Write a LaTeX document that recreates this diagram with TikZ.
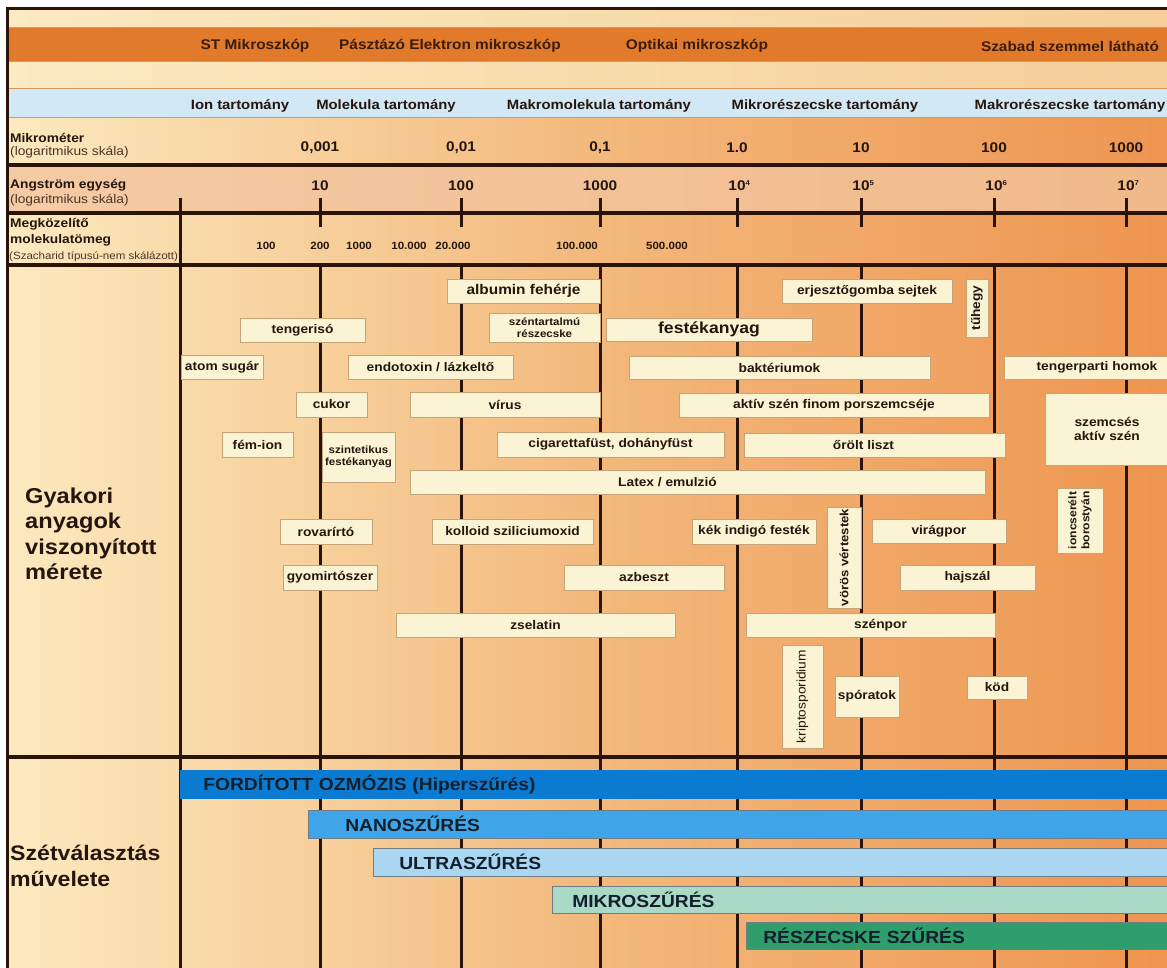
\documentclass[tikz,border=0pt]{standalone}
\usepackage{fontspec}
\setmainfont{Liberation Sans}[FakeStretch=1.1]
\definecolor{ink}{HTML}{24160E}
\definecolor{hdrT}{HTML}{3A1C0A}
\definecolor{subT}{HTML}{4B3526}
\definecolor{lineC}{HTML}{2A140A}
\definecolor{boxF}{HTML}{FBF4D4}
\definecolor{boxD}{HTML}{C6A47A}
\definecolor{creamL}{HTML}{FCEAC1}
\definecolor{creamR}{HTML}{F5CE99}
\definecolor{orangeB}{HTML}{E27A2B}
\definecolor{blueB}{HTML}{D3E8F5}
\definecolor{bandL}{HTML}{CF9A62}
\definecolor{bgL}{HTML}{FCE9BF}
\definecolor{bgM}{HTML}{F3B97D}
\definecolor{bgR}{HTML}{EE9550}
\definecolor{angL}{HTML}{F5CBA5}
\definecolor{angR}{HTML}{F0B98A}
\definecolor{roC}{HTML}{0B7BD2}
\definecolor{nanoC}{HTML}{3FA5E8}
\definecolor{ultraC}{HTML}{AAD6F2}
\definecolor{mikroC}{HTML}{AAD9C8}
\definecolor{reszC}{HTML}{2F9D6C}
\definecolor{barT}{HTML}{13202C}
\definecolor{barD}{HTML}{6F7D86}
\newcommand\fsz[2]{\fontsize{#1}{#2}\selectfont}
\newcommand\bx[7][]{\node[box,minimum width={(#5-#3)*1pt},minimum height={(#6-#4)*1pt},#1] (#2) at ({(#3+#5)/2},{(#4+#6)/2}) {#7};}
\newcommand\vbx[7][]{\node[box,rotate=90,minimum width={(#6-#4)*1pt},minimum height={(#5-#3)*1pt},#1] (#2) at ({(#3+#5)/2},{(#4+#6)/2}) {#7};}
\newcommand\tenp[1]{10\rlap{\fsz{7}{7}\raisebox{5pt}{#1}}}
\tikzset{
 hline/.style={line width=3.5pt, draw=lineC},
 vline/.style={line width=3pt, draw=lineC},
 bandline/.style={line width=1pt, draw=bandL},
 box/.style={draw=boxD, fill=boxF, line width=0.9pt, inner sep=0pt, text=ink, font=\bfseries\fsz{12.5}{14}, align=center},
 hdr/.style={font=\bfseries\fsz{14}{16}, text=hdrT, inner sep=0pt},
 rng/.style={font=\bfseries\fsz{13.5}{16}, text=ink, inner sep=0pt},
 val/.style={font=\bfseries\fsz{14}{16}, text=ink, inner sep=0pt},
 mw/.style={font=\bfseries\fsz{10.5}{12}, text=ink, inner sep=0pt},
 lbl/.style={font=\bfseries\fsz{12.5}{14}, text=ink, inner sep=0pt, anchor=west},
 sublbl/.style={font=\fsz{12.5}{14}, text=subT, inner sep=0pt, anchor=west},
 big/.style={font=\bfseries\fsz{21.5}{25.5}, text=ink, inner sep=0pt, anchor=west, align=left},
 bar/.style={draw=barD, line width=0.6pt, minimum height=28pt, inner ysep=0pt, anchor=north west, align=left, font=\bfseries\fsz{17.5}{20}, text=barT},
}
\begin{document}
\begin{tikzpicture}[x=1pt,y=-1pt]
\useasboundingbox (0,0) rectangle (1167,968);
\clip (0,0) rectangle (1167,968);
\fill[white] (0,0) rectangle (1167,968);
% backgrounds
\shade[left color=bgL, right color=bgR, middle color=bgM] (7,118) rectangle (1167,968);
\shade[left color=creamL, right color=creamR] (7,9) rectangle (1167,89);
\fill[orangeB] (7,28) rectangle (1167,62);
\fill[blueB] (7,89) rectangle (1167,118);
\shade[left color=angL, right color=angR] (7,165) rectangle (1167,213);
\draw[bandline] (7,28) -- (1167,28);
\draw[bandline] (7,62) -- (1167,62);
\draw[bandline] (7,89) -- (1167,89);
\draw[bandline] (7,118) -- (1167,118);
% grid lines
\draw[hline] (7,165) -- (1167,165);
\draw[hline] (7,213) -- (1167,213);
\draw[hline] (7,265) -- (1167,265);
\draw[hline] (7,757) -- (1167,757);
\draw[vline] (180,198) -- (180,968);
\foreach \xx in {320,461,600,737,861,994,1126} {
  \draw[vline] (\xx,198) -- (\xx,227);
  \draw[vline] (\xx,265) -- (\xx,968);
}
\draw[line width=3pt, draw=lineC] (7.5,8.5) -- (7.5,968);
\draw[line width=3pt, draw=lineC] (6,8.5) -- (1167,8.5);
% header bands
\node[hdr] (h1) at (255,46) {ST Mikroszkóp};
\node[hdr] (h2) at (450,46) {Pásztázó Elektron mikroszkóp};
\node[hdr] (h3) at (697,46) {Optikai mikroszkóp};
\node[hdr] (h4) at (1070,46) {Szabad szemmel látható};
\node[rng] (r1) at (240,106) {Ion tartomány};
\node[rng] (r2) at (386,106) {Molekula tartomány};
\node[rng] (r3) at (599,106) {Makromolekula tartomány};
\node[rng] (r4) at (825,106) {Mikrorészecske tartomány};
\node[rng] (r5) at (1070,106) {Makrorészecske tartomány};
% left labels of scale rows
\node[lbl] (lm1) at (10,138) {Mikrométer};
\node[sublbl] (lm2) at (10,152) {(logaritmikus skála)};
\node[lbl] (la1) at (10,185) {Angström egység};
\node[sublbl] (la2) at (10,200) {(logaritmikus skála)};
\node[lbl] (lk1) at (10,224) {Megközelítő};
\node[lbl] (lk2) at (10,240) {molekulatömeg};
\begin{scope}
\clip (0,249) rectangle (178,264);
\node[sublbl, font=\fsz{10.5}{12}] (lk3) at (9,257) {(Szacharid típusú-nem skálázott)};
\end{scope}
% micrometer values
\node[val] (m1) at (320,148) {0,001};
\node[val] (m2) at (461,148) {0,01};
\node[val] (m3) at (600,148) {0,1};
\node[val] (m4) at (737,148) {1.0};
\node[val] (m5) at (861,148) {10};
\node[val] (m6) at (994,148) {100};
\node[val] (m7) at (1126,148) {1000};
% angstrom values
\node[val] (a1) at (320,186) {10};
\node[val] (a2) at (461,186) {100};
\node[val] (a3) at (600,186) {1000};
\node[val] (a4) at (737,186) {\tenp{4}};
\node[val] (a5) at (861,186) {\tenp{5}};
\node[val] (a6) at (994,186) {\tenp{6}};
\node[val] (a7) at (1126,186) {\tenp{7}};
% molecular weight values
\node[mw] (w1) at (266,246) {100};
\node[mw] (w2) at (320,246) {200};
\node[mw] (w3) at (359,246) {1000};
\node[mw] (w4) at (409,246) {10.000};
\node[mw] (w5) at (453,246) {20.000};
\node[mw] (w6) at (577,246) {100.000};
\node[mw] (w7) at (667,246) {500.000};
% section labels
\node[big] (gy) at (25,534) {Gyakori\\anyagok\\viszonyított\\mérete};
\node[big, font=\bfseries\fsz{21}{26}] (sz) at (10,866) {Szétválasztás\\művelete};
% material boxes
\bx[font=\bfseries\fsz{14}{16}]{alb}{447}{279}{600}{303}{albumin fehérje}
\bx[font=\bfseries\fsz{10.5}{12.5}]{szen}{489}{313}{600}{342}{széntartalmú\\részecske}
\bx{teng}{240}{318}{365}{342}{tengerisó}
\bx{atom}{181}{355}{263}{379}{atom sugár}
\bx{endo}{348}{355}{513}{379}{endotoxin / lázkeltő}
\bx{cukor}{296}{392}{367}{417}{cukor}
\bx{virus}{410}{392}{600}{417}{vírus}
\bx{femion}{222}{432}{293}{457}{fém-ion}
\bx[font=\bfseries\fsz{10.5}{12.5}]{szint}{322}{432}{395}{482}{szintetikus\\festékanyag}
\bx{ciga}{497}{432}{724}{457}{cigarettafüst, dohányfüst}
\bx{latex}{410}{470}{985}{494}{Latex / emulzió\hspace*{60pt}}
\bx{rovar}{280}{519}{372}{544}{rovarírtó}
\bx{kolloid}{432}{519}{593}{544}{kolloid sziliciumoxid}
\bx{gyom}{283}{565}{377}{590}{gyomirtószer}
\bx{azb}{564}{565}{724}{590}{azbeszt}
\bx{zsel}{396}{613}{675}{637}{zselatin}
\bx{erj}{782}{279}{952}{303}{erjesztőgomba sejtek}
\vbx{tuh}{966}{279}{988}{337}{tűhegy}
\bx[font=\bfseries\fsz{16}{18}]{fest}{606}{318}{812}{341}{festékanyag}
\bx{bakt}{629}{356}{930}{379}{baktériumok}
\bx{tengp}{1004}{356}{1190}{379}{tengerparti homok}
\bx{aktiv}{679}{393}{989}{417}{aktív szén finom porszemcséje}
\bx[font=\bfseries\fsz{12.5}{14}]{szemcs}{1045}{393}{1169}{465}{szemcsés\\aktív szén}
\bx{orolt}{744}{433}{1005}{457}{őrölt liszt\hspace*{22pt}}
\bx{kek}{692}{519}{816}{544}{kék indigó festék}
\vbx[font=\bfseries\fsz{12}{14}]{voros}{827}{507}{861}{608}{vörös vértestek}
\bx{virag}{872}{519}{1006}{543}{virágpor}
\bx{hajsz}{900}{565}{1035}{590}{hajszál}
\vbx[font=\bfseries\fsz{11}{13}]{ionc}{1057}{488}{1103}{553}{ioncserélt\\borostyán}
\bx{szenpor}{746}{613}{995}{637}{\hspace*{20pt}szénpor}
\vbx[font=\fsz{12.5}{14}]{kripto}{782}{645}{823}{748}{kriptosporidium}
\bx{spor}{835}{676}{899}{717}{spóratok}
\bx{kod}{967}{676}{1027}{699}{köd}
% separation bars
\node[bar, fill=roC, draw=roC, text width=964pt, inner xsep=23pt] (fo) at (180,770) {FORDÍTOTT OZMÓZIS (Hiperszűrés)};
\node[bar, fill=nanoC, text width=808pt, inner xsep=37pt] (nano) at (308,810) {NANOSZŰRÉS};
\node[bar, fill=ultraC, text width=765pt, inner xsep=26pt] (ultra) at (373,848) {ULTRASZŰRÉS};
\node[bar, fill=mikroC, minimum height=27pt, text width=598pt, inner xsep=20pt] (mikro) at (552,886) {MIKROSZŰRÉS};
\node[bar, fill=reszC, minimum height=27pt, text width=410pt, inner xsep=17pt] (resz) at (746,922) {RÉSZECSKE SZŰRÉS};
\end{tikzpicture}
\end{document}
